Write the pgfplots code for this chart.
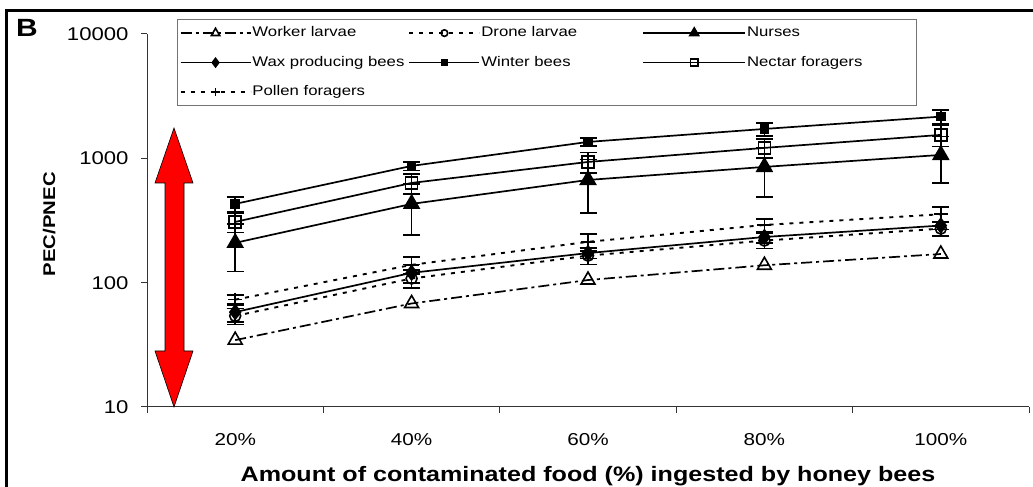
\documentclass[border=0pt]{standalone}
\usepackage{fontspec}
\setmainfont{Liberation Sans}[FakeStretch=1.2]
\usepackage{pgfplots}
\pgfplotsset{compat=1.18}
\pgfplotsset{eb/.style={error bars/.cd, y dir=both, y explicit, error mark=-,
  error bar style={solid, line width=1.7bp, black},
  error mark options={solid, mark size=8.5bp, line width=1.7bp, black, rotate=90}},
  longimg/.style={legend image code/.code={\draw[mark repeat=2, mark phase=2, /tikz/every mark/.append style={scale=0.6}] plot coordinates {(0bp,0bp) (51bp,0bp) (102bp,0bp)};}}}
\begin{document}
\begin{tikzpicture}[x=1bp,y=1bp]
\path[use as bounding box] (0,0) rectangle (1033,487);
\draw[line width=3bp] (6.7,-5) -- (6.7,476.7) -- (1040,476.7);
\node[font=\fontsize{25}{25}\selectfont\bfseries, anchor=base west, inner sep=0pt] at (16,450) {B};
\begin{axis}[
  at={(147bp,80bp)}, anchor=south west, scale only axis,
  width=882bp, height=373bp,
  xmin=-0.5, xmax=4.5, ymode=log, ymin=10, ymax=10000,
  axis x line*=bottom, axis y line*=left,
  axis line style={-, line width=1bp, draw=black!80},
  xtick={0,1,2,3,4}, xticklabels={20\%,40\%,60\%,80\%,100\%},
  major x tick style={draw=none},
  minor xtick={-0.5,0.5,1.5,2.5,3.5,4.5},
  ytick={10,100,1000,10000}, yticklabels={10,100,1000,10000},
  yminorticks=false,
  tick align=outside, major tick length=6bp, minor tick length=6bp,
  tick style={line width=1bp, black!80},
  xticklabel style={font=\fontsize{17.3}{17.3}\selectfont, yshift=-17bp},
  yticklabel style={font=\fontsize{18.5}{18.5}\selectfont, xshift=-9bp},
  xlabel={Amount of contaminated food (\%) ingested by honey bees},
  xlabel style={font=\fontsize{21}{21}\selectfont\bfseries, at={(axis description cs:0.5,0)}, anchor=base, yshift=-74.7bp},
  ylabel={PEC/PNEC},
  ylabel style={font=\fontsize{17}{17}\selectfont\bfseries, at={(axis description cs:-0.111,0.49)}, anchor=center},
  legend columns=3,
  legend cell align=left,
  legend style={at={(0.034,1.0402)}, anchor=north west, draw=black!55, line width=1.2bp,
    fill=white, inner xsep=2bp, inner ysep=6bp, font=\fontsize{14}{14}\selectfont,
    nodes={inner sep=1bp, text height=10bp, text depth=3bp, text width=155bp, align=left},
    row sep=14.5bp},
  legend image code/.code={\draw[mark repeat=2, mark phase=2, /tikz/every mark/.append style={scale=0.6}] plot coordinates {(0bp,0bp) (35bp,0bp) (70bp,0bp)};},
]
% Worker larvae
\addplot[black, line width=1.7bp, dash pattern=on 11bp off 4bp on 3bp off 4bp,
  mark=triangle, mark size=8bp, mark options={solid, fill=white, line width=1.6bp}]
  coordinates {(0,34.5) (1,68) (2,105) (3,138) (4,170)};
\addlegendentry[text width=155bp]{Worker larvae}
% Drone larvae
\addplot[black, line width=1.9bp, dash pattern=on 4bp off 6bp,
  mark=o, mark size=5.5bp, mark options={solid, fill=white, line width=1.6bp}, eb]
  coordinates {(0,54) +- (0,8) (1,108) +- (0,18) (2,165) +- (0,25) (3,218) +- (0,30) (4,272) +- (0,34)};
\addlegendentry[text width=160bp]{Drone larvae}
% Nurses
\addplot[black, line width=1.7bp, solid, longimg,
  mark=triangle*, mark size=8.5bp, mark options={solid}, eb]
  coordinates {(0,209) +- (0,86) (1,430) +- (0,188) (2,670) +- (0,308) (3,853) +- (0,366) (4,1065) +- (0,435)};
\addlegendentry[text width=166bp]{Nurses}
% Wax producing bees
\addplot[black, line width=1.7bp, solid,
  mark=diamond*, mark size=7bp, mark options={solid}, eb]
  coordinates {(0,58) +- (0,10) (1,120) +- (0,20) (2,173) +- (0,17) (3,233) +- (0,25) (4,288) +- (0,20)};
\addlegendentry[text width=155bp]{Wax producing bees}
% Winter bees
\addplot[black, line width=1.7bp, solid,
  mark=square*, mark size=4bp, mark options={solid}, eb]
  coordinates {(0,430) +- (0,57) (1,869) +- (0,71) (2,1355) +- (0,97) (3,1723) +- (0,204) (4,2165) +- (0,285)};
\addlegendentry[text width=160bp]{Winter bees}
% Nectar foragers
\addplot[black, line width=1.7bp, solid, longimg,
  mark=square, mark size=6bp, mark options={solid, fill=white, line width=1.6bp}, eb]
  coordinates {(0,308) +- (0,55) (1,634) +- (0,117) (2,935) +- (0,176) (3,1213) +- (0,213) (4,1543) +- (0,300)};
\addlegendentry[text width=166bp]{Nectar foragers}
% Pollen foragers
\addplot[black, line width=1.9bp, dash pattern=on 4bp off 6bp,
  mark=+, mark size=7bp, mark options={solid, line width=1.6bp}, eb]
  coordinates {(0,73) +- (0,7) (1,139) +- (0,22) (2,213) +- (0,33) (3,291) +- (0,34) (4,355) +- (0,50)};
\addlegendentry[text width=155bp]{Pollen foragers}
\end{axis}
\filldraw[fill=red, draw=black, line width=0.6bp]
  (174,359) -- (193,304) -- (184,304) -- (184,136) -- (193,136) -- (174,80)
  -- (155,136) -- (165,136) -- (165,304) -- (155,304) -- cycle;
\end{tikzpicture}
\end{document}
